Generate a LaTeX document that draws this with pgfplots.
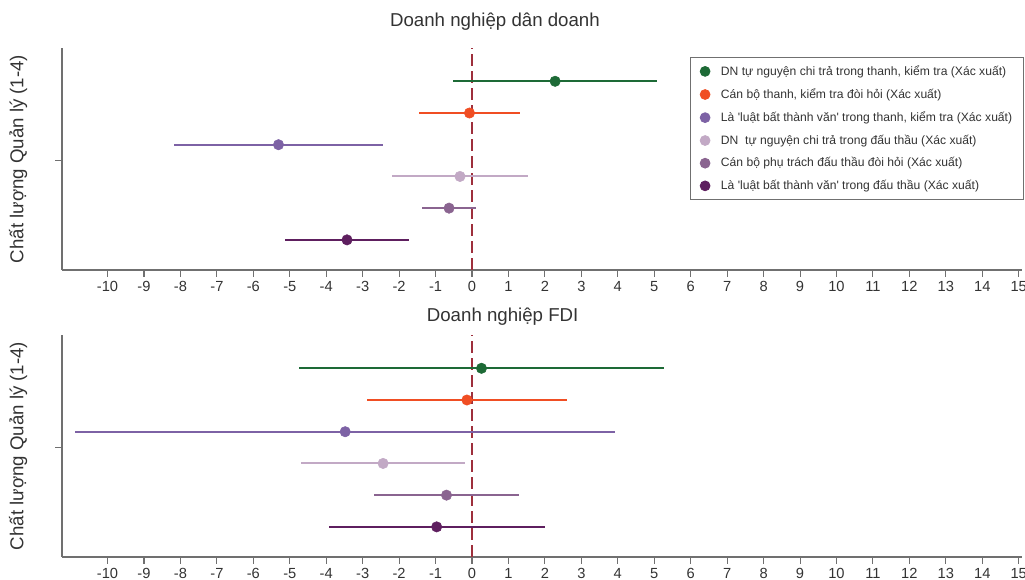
\documentclass[border=0pt]{standalone}
\usepackage{pgfplots}
\pgfplotsset{compat=1.18}
\usepackage{fontspec}
\setmainfont{Liberation Sans}[Ligatures=TeXOff]
\definecolor{cgreen}{HTML}{1D6A36}
\definecolor{corange}{HTML}{F04E23}
\definecolor{cpurple}{HTML}{7D62A5}
\definecolor{clight}{HTML}{C2A9C5}
\definecolor{cmauve}{HTML}{8A6490}
\definecolor{cdark}{HTML}{5E1F5F}
\definecolor{cref}{HTML}{9E2F3C}
\definecolor{caxis}{HTML}{707070}
\definecolor{ctext}{HTML}{333333}
\pgfplotsset{
  base/.style={
    scale only axis, width=720pt, height=166.5pt,
    xmin=-11.25, xmax=15.09, ymin=0.05, ymax=7.05,
    axis x line*=bottom, axis y line*=left,
    xtick={-10,-9,...,15}, ytick={3.5}, yticklabels={},
    tick align=outside, major tick length=5pt,
    axis line style={color=caxis, line width=0.8pt},
    tick style={color=caxis, line width=0.8pt},
    /pgf/number format/assume math mode=true,
    ticklabel style={font=\fontsize{11}{13}\selectfont, text=ctext},
    ylabel={Chất lượng Quản lý (1-4)},
    ylabel style={at={(axis description cs:-0.0458,0.5)}, anchor=center, font=\fontsize{14}{16}\selectfont, text=ctext},
    title style={anchor=center, font=\fontsize{14}{16}\selectfont, text=ctext},
  },
  ser/.style={only marks, mark=*, mark size=3.9pt, color=#1,
    mark options={fill=#1, draw=#1},
    error bars/.cd, x dir=both, x explicit, error mark=none,
    error bar style={line width=1.5pt, color=#1}},
  refline/.style={forget plot, color=cref, line width=1.1pt, dash pattern=on 9pt off 3.75pt},
}
\begin{document}
\begin{tikzpicture}
\useasboundingbox (0,0) rectangle (768.75pt,435pt);
\begin{axis}[base, at={(46.5pt,232.5pt)}, anchor=south west,
  title={Doanh nghiệp dân doanh},
  title style={at={(axis description cs:0.451,1)}, yshift=13.5pt},
  legend style={at={(rel axis cs:1.002,0.959)}, anchor=north east,
    draw=caxis, line width=0.6pt, font=\fontsize{9.1}{11}\selectfont, text=ctext,
    row sep=4.5pt, inner xsep=6.5pt, inner ysep=4pt, cells={anchor=west}},
  legend image code/.code={\path[draw=none,fill=none] (0pt,0pt) -- (14.1pt,0pt);\draw[#1,mark size=3.7pt] plot coordinates {(4.25pt,0pt)};}]
\addplot[refline] coordinates {(0,0.05) (0,7.05)};
\addplot[ser=cgreen] coordinates {(2.28,6) +- (2.80,0)};
\addlegendentry{DN tự nguyện chi trả trong thanh, kiểm tra (Xác xuất)}
\addplot[ser=corange] coordinates {(-0.07,5) +- (1.39,0)};
\addlegendentry{Cán bộ thanh, kiểm tra đòi hỏi (Xác xuất)}
\addplot[ser=cpurple] coordinates {(-5.31,4) +- (2.87,0)};
\addlegendentry{Là 'luật bất thành văn' trong thanh, kiểm tra (Xác xuất)}
\addplot[ser=clight] coordinates {(-0.33,3) +- (1.87,0)};
\addlegendentry{DN\ \ tự nguyện chi trả trong đấu thầu (Xác xuất)}
\addplot[ser=cmauve] coordinates {(-0.63,2) +- (0.74,0)};
\addlegendentry{Cán bộ phụ trách đấu thầu đòi hỏi (Xác xuất)}
\addplot[ser=cdark] coordinates {(-3.43,1) +- (1.70,0)};
\addlegendentry{Là 'luật bất thành văn' trong đấu thầu (Xác xuất)}
\end{axis}
\begin{axis}[base, at={(46.5pt,17.25pt)}, anchor=south west,
  title={Doanh nghiệp FDI},
  title style={at={(axis description cs:0.459,1)}, yshift=7.5pt}]
\addplot[refline] coordinates {(0,0.05) (0,7.05)};
\addplot[ser=cgreen] coordinates {(0.26,6) +- (5.01,0)};
\addplot[ser=corange] coordinates {(-0.14,5) +- (2.74,0)};
\addplot[ser=cpurple] coordinates {(-3.48,4) +- (7.41,0)};
\addplot[ser=clight] coordinates {(-2.44,3) +- (2.25,0)};
\addplot[ser=cmauve] coordinates {(-0.70,2) +- (1.99,0)};
\addplot[ser=cdark] coordinates {(-0.97,1) +- (2.96,0)};
\end{axis}
\end{tikzpicture}
\end{document}
